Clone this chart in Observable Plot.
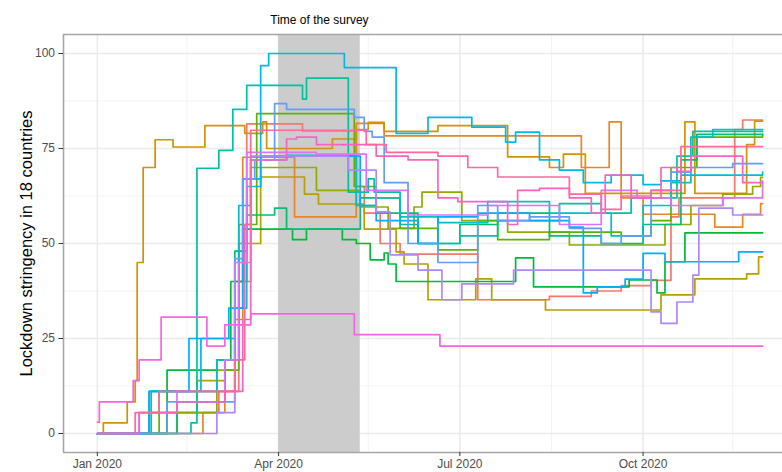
<!DOCTYPE html>
<html><head><meta charset="utf-8">
<script src="https://cdn.jsdelivr.net/npm/d3@7"></script>
<script src="https://cdn.jsdelivr.net/npm/@observablehq/plot@0.6"></script>
<style>
body{margin:0;background:#fff;}
#chart{position:relative;width:782px;height:472px;overflow:hidden;}
</style>
</head><body><div id="chart"></div>
<script>
// ---- data (date "MM-DD" in 2020, stringency value) ----
const s01 = [["01-01",0],["01-27",5.5],["03-02",11.1],["03-12",40],["03-16",81.5],["04-13",79.6],["05-10",65],["05-14",58],["05-22",50],["06-01",47.2],["07-10",35.2],["08-15",36.1],["09-05",37.5],["09-20",38.9],["10-05",40.3],["10-15",57],["10-19",62],["11-16",80],["11-20",82.5],["11-30",82.5]];
const s02 = [["01-01",0],["02-23",5.5],["03-05",11.1],["03-10",30],["03-14",72.7],["04-09",57],["05-10",81.6],["05-24",78.3],["08-31",70],["09-14",82],["09-20",62],["10-01",57.7],["11-06",54.3],["11-20",57.7],["11-29",60.5],["11-30",60.5]];
const s03 = [["01-01",0],["01-04",2.8],["01-16",8.3],["01-20",13.9],["01-21",45],["01-24",70],["01-30",77.3],["02-08",75.4],["02-24",81],["03-15",79],["03-24",82],["03-26",75],["04-22",75],["04-28",77.5],["05-10",80],["05-16",81.9],["05-24",79.5],["06-20",81],["07-25",72.8],["08-15",70],["08-22",73.5],["09-02",63.2],["10-22",82],["10-27",63.2],["11-22",76],["11-26",82.2],["11-30",82.2]];
const s04 = [["01-01",0],["02-10",5.5],["02-20",13.9],["03-05",19.4],["03-12",50],["03-23",67.5],["04-14",63],["04-21",60.4],["05-14",53.8],["05-30",47.8],["06-03",44.6],["06-15",35.2],["07-09",40.7],["07-17",35.2],["08-13",32.5],["10-10",36.5],["10-27",40.7],["11-22",42],["11-28",46.5],["11-30",46.5]];
const s05 = [["01-01",0],["02-05",5.5],["03-01",16.7],["03-10",40],["03-18",70],["04-20",64],["05-12",59.6],["05-26",54],["06-08",59.6],["06-12",63.5],["07-02",56],["07-25",53],["08-25",49.6],["10-12",55],["10-25",60],["11-10",63],["11-25",65],["11-29",67.4],["11-30",67.4]];
const s06 = [["01-01",0],["02-01",11.1],["03-05",16.7],["03-12",55],["03-21",84.2],["05-09",65],["05-20",62],["06-01",54],["06-20",48.3],["07-10",56],["07-20",51],["08-15",53],["09-20",52],["10-05",56],["10-15",70],["10-28",78],["11-30",78.7]];
const s07 = [["01-01",0],["02-05",16.7],["03-01",19.4],["03-08",40],["03-14",53.8],["04-08",51],["04-15",53.8],["05-03",51],["05-10",50],["05-17",45.7],["05-24",47.5],["05-26",44.6],["05-30",40],["07-29",46.2],["08-07",38.6],["09-24",40.4],["10-08",37],["10-12",45.2],["10-22",52.8],["11-30",52.8]];
const s08 = [["01-01",0],["02-10",8.3],["03-05",19.4],["03-10",48],["03-16",57.5],["03-30",59.3],["04-05",53.8],["04-22",53.8],["05-12",62],["05-20",58],["06-10",50],["07-01",55],["07-20",58],["08-15",52],["09-10",50],["10-01",55],["10-20",72],["10-28",78.7],["11-30",78.7]];
const s09 = [["01-01",0],["02-17",2.8],["02-20",69.8],["03-02",74.5],["03-09",85.3],["03-16",91.6],["04-13",88],["04-15",93.5],["05-06",63.5],["05-16",67],["05-19",63.5],["06-01",55],["06-10",50],["07-01",52],["07-20",56],["08-20",60.5],["09-10",58],["09-25",62],["10-18",73],["10-26",79.5],["11-30",79.5]];
const s10 = [["01-01",0],["01-28",11.1],["03-01",19.4],["03-12",60],["03-18",72],["04-05",73.2],["05-10",60],["05-20",62],["06-01",57],["06-20",55.5],["07-15",61],["08-15",58],["09-15",52],["10-01",60],["10-15",66],["10-25",78],["11-05",80],["11-30",80]];
const s11 = [["01-01",0],["01-27",11.1],["02-22",25],["03-10",33],["03-16",65],["03-23",96.8],["03-27",100],["05-04",96.3],["05-30",79],["06-15",83.2],["07-07",80.6],["07-24",76.7],["07-29",79.3],["08-10",72],["08-20",69.3],["09-01",66],["09-15",68],["10-01",65.5],["10-10",66.5],["10-20",68],["11-30",68.8]];
const s12 = [["01-01",0],["01-27",11.1],["02-16",25],["03-07",33],["03-14",67],["03-23",73],["04-01",73],["05-12",60],["05-20",56],["06-10",50],["06-20",57],["07-10",58],["08-05",56],["08-25",54.3],["09-01",37],["09-08",38.6],["09-22",40.6],["10-01",47.4],["10-12",45.2],["11-18",47.8],["11-30",47.8]];
const s13 = [["01-01",0],["02-05",8.3],["03-10",46],["03-14",67],["03-20",72],["03-30",86.8],["04-05",85.3],["05-09",83.2],["05-14",79.5],["05-18",78],["05-24",66],["06-05",50],["06-20",45],["07-10",60],["07-20",56],["08-05",57],["08-25",54],["09-10",50],["09-20",52],["10-05",64],["10-15",68.8],["10-25",70],["11-15",71],["11-30",71]];
const s14 = [["01-01",0],["03-01",5.5],["03-10",45],["03-18",73],["05-06",69.3],["05-20",58.3],["05-27",47],["06-10",43],["06-22",35.2],["07-02",39.4],["07-28",43],["09-25",43],["10-05",32],["10-10",29],["10-18",34.6],["10-26",41.7],["10-29",59.3],["11-15",57.5],["11-30",57.5]];
const s15 = [["01-01",0],["01-22",5.5],["02-10",11.1],["03-05",19.4],["03-12",45],["03-16",74],["04-20",73.5],["05-15",64],["06-05",57.5],["06-25",57.5],["07-15",60],["08-20",55],["09-10",64],["09-28",62],["10-15",60],["11-10",62],["11-30",66.5]];
const s16 = [["01-01",3],["01-02",8.3],["01-19",13.9],["01-22",19.4],["02-02",30.6],["02-25",23],["03-05",28.6],["03-18",31.5],["05-09",26],["06-21",23],["11-30",23]];
const s17 = [["01-01",0],["01-22",5.5],["02-10",8.3],["03-05",11.1],["03-14",30],["03-18",72],["04-05",77.5],["04-10",78],["04-20",76],["05-12",76],["05-20",73],["06-05",72],["06-20",62],["06-30",61],["07-25",55],["07-30",64],["08-10",64.5],["08-25",62],["09-05",58],["09-12",68],["09-25",62],["10-10",70],["10-18",69],["10-25",73],["11-20",66],["11-30",66]];
const s18 = [["01-01",0],["01-20",5.5],["02-01",11.1],["03-10",19.4],["03-15",55],["03-18",79.8],["05-05",79.8],["05-15",76],["05-25",74],["06-20",73],["07-05",70],["07-20",67.5],["08-25",63],["09-10",59],["09-20",62.5],["10-05",64],["10-20",75.5],["11-30",75.5]];

const seriesList = [s01,s02,s03,s04,s05,s06,s07,s08,s09,s10,s11,s12,s13,s14,s15,s16,s17,s18];
const seriesIds = ["s01","s02","s03","s04","s05","s06","s07","s08","s09","s10","s11","s12","s13","s14","s15","s16","s17","s18"];
const seriesColors = ["#F8766D","#E88526","#D39200","#B79F00","#93AA00","#5EB300","#00BA38","#00BF74","#00C19F","#00BFC4","#00B9E3","#00ADFA","#619CFF","#AE87FF","#DB72FB","#F564E3","#FF61C3","#FF699C"];

const yTicks = [0,25,50,75,100];
const yMinor = [12.5,37.5,62.5,87.5];
const xTicks = ["2020-01-01","2020-04-01","2020-07-01","2020-10-01"];
const xMinor = ["2020-02-15","2020-05-16","2020-08-16","2020-11-15"];
const xDomain = ["2019-12-15","2020-12-10"];
const yDomain = [-5,105];
const surveyPeriod = ["2020-04-01","2020-05-12"];
const surveyLabel = "Time of the survey";
const yTitle = "Lockdown stringency in 18 countries";

// ---- build ----
const rows = seriesList.flatMap((s, i) => s.map(([md, v]) => ({id: seriesIds[i], date: new Date(`2020-${md}`), value: v})));
const d = s => new Date(s);
const xTickDates = xTicks.map(d);
const xMinorDates = xMinor.map(d);
const survey = [{start: d(surveyPeriod[0]), end: d(surveyPeriod[1]), lo: yDomain[0], hi: yDomain[1]}];
const surveyMid = new Date((survey[0].start.getTime() + survey[0].end.getTime()) / 2);

const chart = Plot.plot({
  width: 782, height: 472,
  marginTop: 34, marginLeft: 63, marginRight: 0, marginBottom: 20,
  x: {type: "utc", domain: xDomain.map(d)},
  y: {domain: yDomain},
  color: {domain: seriesIds, range: seriesColors},
  style: {fontFamily: "'Liberation Sans', Arial, Helvetica, sans-serif", fontSize: "12px", color: "#4D4D4D", background: "#fff", overflow: "visible"},
  marks: [
    Plot.ruleY(yMinor, {stroke: "#F2F2F2", strokeWidth: 0.9}),
    Plot.ruleX(xMinorDates, {stroke: "#F2F2F2", strokeWidth: 0.9}),
    Plot.ruleY(yTicks, {stroke: "#EBEBEB", strokeWidth: 1.6}),
    Plot.ruleX(xTickDates, {stroke: "#EBEBEB", strokeWidth: 1.6}),
    Plot.rect(survey, {x1: "start", x2: "end", y1: "lo", y2: "hi", fill: "#CCCCCC"}),
    Plot.line(rows, {x: "date", y: "value", z: "id", stroke: "id", curve: "step-after", strokeWidth: 1.7}),
    Plot.ruleY([yDomain[0], yDomain[1]], {stroke: "#A6A6A6", strokeWidth: 1.6}),
    Plot.ruleX([d(xDomain[0])], {stroke: "#A6A6A6", strokeWidth: 1.6}),
    Plot.axisY(yTicks, {tickSize: 4.5, tickPadding: 4, label: null, stroke: "#333", fontSize: 12}),
    Plot.axisX(xTickDates, {tickSize: 4, tickPadding: 3, label: null, tickFormat: d3.utcFormat("%b %Y"), stroke: "#333", fontSize: 12}),
    Plot.text([surveyLabel], {x: () => surveyMid, y: () => yDomain[1], dy: -14, fill: "#000", fontSize: 12}),
    Plot.text([yTitle], {frameAnchor: "left", rotate: -90, dx: -37, textAnchor: "middle", fill: "#000", fontSize: 16.5})
  ]
});
document.getElementById("chart").appendChild(chart);
</script>
</body></html>
